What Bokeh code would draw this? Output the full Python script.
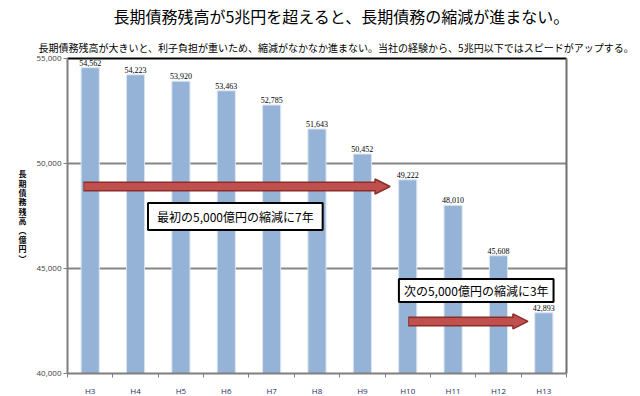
from bokeh.plotting import figure
from bokeh.models import (ColumnDataSource, LabelSet, Label, FixedTicker,
                          Arrow, NormalHead, NumeralTickFormatter)
from bokeh.embed import file_html
from bokeh.resources import INLINE

years = ["H3", "H4", "H5", "H6", "H7", "H8", "H9", "H10", "H11", "H12", "H13"]
debt = [54562, 54223, 53920, 53463, 52785, 51643, 50452, 49222, 48010, 45608, 42893]
y_ticks = [40000, 45000, 50000, 55000]

title_text = "長期債務残高が5兆円を超えると、長期債務の縮減が進まない。"
subtitle_text = "長期債務残高が大きいと、利子負担が重いため、縮減がなかなか進まない。当社の経験から、5兆円以下ではスピードがアップする。"
note1 = "最初の5,000億円の縮減に7年"
note2 = "次の5,000億円の縮減に3年"
ylabel = "長\n期\n債\n務\n残\n高\n︵\n億\n円\n︶"

# arrow annotations: (x_start, x_end, y) in data units
arrow1 = (0.35, 7.11, 48905)
arrow2 = (7.51, 10.15, 42480)

JP = "Noto Sans CJK JP"
NUM = "Open Sans"

# ---- layout constants (canvas pixels) ----
W, H = 640, 396
PL, PR, PT, PB = 67, 566, 58, 373          # plot area edges
n = len(years)
ppx = (PR - PL) / n
ppy = (PB - PT) / (y_ticks[-1] - y_ticks[0])
x_start = -PL / ppx
x_end = n + (W - PR) / ppx
y_start = y_ticks[0] - (H - PB) / ppy
y_end = y_ticks[-1] + PT / ppy

xs = [i + 0.5 for i in range(n)]
src = ColumnDataSource(dict(x=xs, y=debt, lab=[f"{v:,}" for v in debt]))

p = figure(width=W, height=H, output_backend="svg", toolbar_location=None,
           x_range=(x_start, x_end), y_range=(y_start, y_end), min_border=0)
p.title.visible = False
p.outline_line_color = None
p.background_fill_color = "white"
p.border_fill_color = "white"
p.xgrid.visible = False
p.ygrid.visible = False

# grid lines and plot-area border
grid_src = ColumnDataSource(dict(y=y_ticks[1:-1]))
p.segment(x0=0, x1=n, y0="y", y1="y", source=grid_src, line_color="#868686", line_width=2)
p.segment(x0=[0], x1=[n], y0=[y_ticks[-1]], y1=[y_ticks[-1]], line_color="black", line_width=2)
p.segment(x0=[n], x1=[n], y0=[y_ticks[0]], y1=[y_ticks[-1]], line_color="#6f6f6f", line_width=2)

# bars
p.vbar(x="x", top="y", bottom=y_ticks[0], width=0.4, source=src,
       fill_color="#95B3D7", line_color="#DCE6F2", line_width=1)

p.add_layout(LabelSet(x="x", y="y", text="lab", source=src, text_align="center",
                      text_baseline="bottom", y_offset=2, text_font_size="8px",
                      text_font=NUM, text_color="black"))

# y axis
ya = p.yaxis[0]
ya.fixed_location = 0
ya.bounds = (y_ticks[0], y_ticks[-1])
ya.ticker = FixedTicker(ticks=y_ticks)
ya.formatter = NumeralTickFormatter(format="0,0")
ya.major_label_text_font = NUM
ya.major_label_text_font_size = "8px"
ya.major_label_text_color = "#404040"
ya.axis_line_color = "#7f7f7f"
ya.axis_line_width = 2
ya.major_tick_line_color = "#7f7f7f"
ya.major_tick_out = 4
ya.major_tick_in = 0
ya.minor_tick_line_color = None
ya.major_label_standoff = 2
ya.axis_label = ylabel
ya.axis_label_orientation = "horizontal"
ya.axis_label_text_font = JP
ya.axis_label_text_font_size = "8px"
ya.axis_label_text_font_style = "bold"
ya.axis_label_text_color = "black"
ya.axis_label_text_line_height = 0.85
ya.axis_label_standoff = 7

# x axis
xa = p.xaxis[0]
xa.fixed_location = y_ticks[0]
xa.bounds = (0, n)
xa.axis_label = None
xa.ticker = FixedTicker(ticks=xs, minor_ticks=list(range(n + 1)))
xa.major_label_overrides = {x: y for x, y in zip(xs, years)}
xa.major_tick_out = 0
xa.major_tick_in = 0
xa.minor_tick_out = 4
xa.minor_tick_in = 0
xa.minor_tick_line_color = "#7f7f7f"
xa.axis_line_color = "#7f7f7f"
xa.axis_line_width = 2
xa.major_label_text_font = NUM
xa.major_label_text_font_size = "8px"
xa.major_label_text_color = "#1F2F5F"
xa.major_label_standoff = 7

# titles
p.add_layout(Label(x=341, y=H - 15, x_units="screen", y_units="screen", text=title_text,
                   text_align="center", text_baseline="middle", text_font=JP,
                   text_font_size="16px", text_color="black"))
p.add_layout(Label(x=38, y=H - 47, x_units="screen", y_units="screen", text=subtitle_text,
                   text_align="left", text_baseline="middle", text_font=JP,
                   text_font_size="10px", text_color="black"))

# arrows
for (x0, x1, yy) in (arrow1, arrow2):
    p.add_layout(Arrow(x_start=x0, y_start=yy, x_end=x1, y_end=yy,
                       line_color="#8C2D2A", line_width=10,
                       end=NormalHead(size=15, fill_color="#C0504D", line_color="#8C2D2A", line_width=1.5)))
    p.add_layout(Arrow(x_start=x0 + 0.02, y_start=yy, x_end=x1 - 0.3, y_end=yy,
                       line_color="#C0504D", line_width=7, end=None))

# text boxes
p.add_layout(Label(x=3.70, y=47476, text=note1, text_align="center", text_baseline="middle",
                   text_font=JP, text_font_size="12px", text_color="black",
                   background_fill_color="white", border_line_color="black", border_line_width=2,
                   padding=(9, 5)))
p.add_layout(Label(x=9.01, y=43952, text=note2, text_align="center", text_baseline="middle",
                   text_font=JP, text_font_size="12px", text_color="black",
                   background_fill_color="white", border_line_color="black", border_line_width=2,
                   padding=(5, 3)))

open("out.html", "w").write(file_html(p, INLINE))
